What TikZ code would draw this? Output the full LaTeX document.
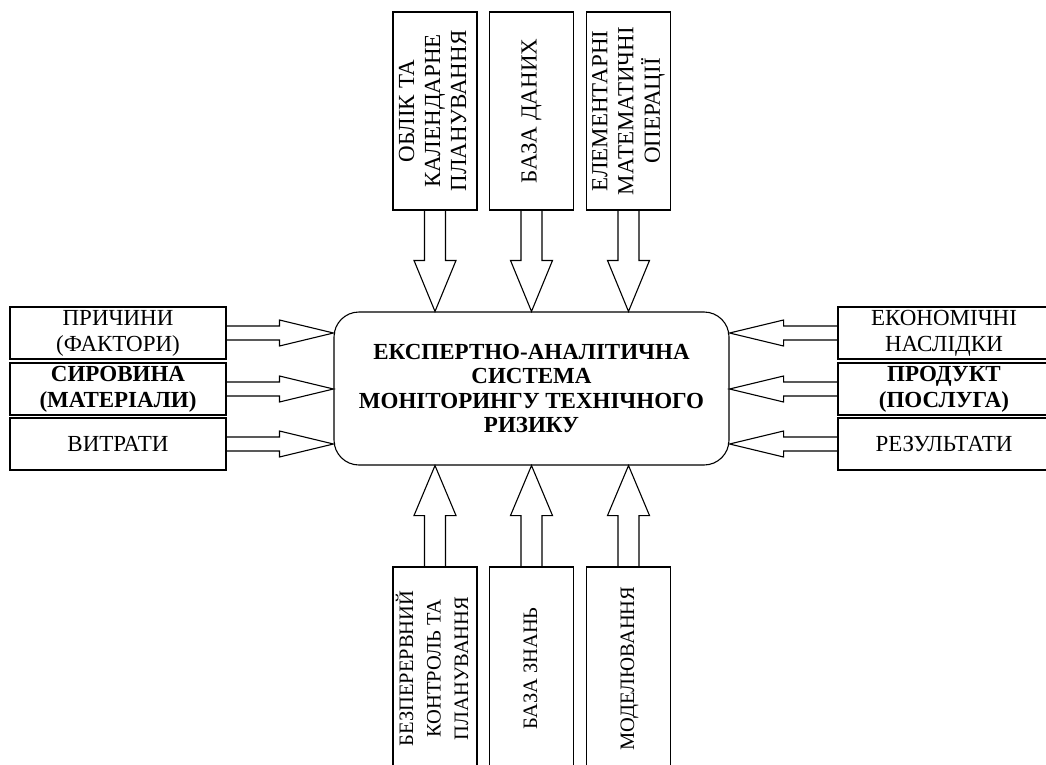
\documentclass[tikz,border=0pt]{standalone}
\usepackage{fontspec}
\setmainfont{Liberation Serif}
\usepackage{graphicx}
\usetikzlibrary{calc}

\tikzset{
  box/.style={draw,rectangle,line width=1.1pt,align=center,inner sep=0pt},
  sidebox/.style={box,minimum width=216pt,minimum height=52pt},
  colbox/.style={box,minimum width=84pt,minimum height=198pt},
  hollow/.style={line width=1.1pt,line join=miter}
}
\newcommand{\uptext}[1]{\rotatebox{90}{\begin{tabular}{@{}c@{}}#1\end{tabular}}}

\begin{document}
\begin{tikzpicture}[x=1pt,y=-1pt,font=\fontsize{23}{26}\selectfont]
  \useasboundingbox (0,0) rectangle (1046,765);
  % centre
  \node[draw,line width=1.1pt,rounded corners=25pt,minimum width=395pt,minimum height=153pt,align=center,
        font=\fontsize{23}{24.5}\selectfont\bfseries] (main) at (531.5,388.5)
     {ЕКСПЕРТНО-АНАЛІТИЧНА\\СИСТЕМА\\МОНІТОРИНГУ ТЕХНІЧНОГО\\РИЗИКУ};
  % inputs on the left
  \node[sidebox] (l1) at (118,333) {ПРИЧИНИ\\(ФАКТОРИ)};
  \node[sidebox,font=\fontsize{23}{26}\selectfont\bfseries] (l2) at (118,389) {СИРОВИНА\\(МАТЕРІАЛИ)};
  \node[sidebox] (l3) at (118,444) {ВИТРАТИ};
  % outputs on the right (run off the page)
  \node[sidebox,minimum width=212pt] (r1) at (944,333) {ЕКОНОМІЧНІ\\НАСЛІДКИ};
  \node[sidebox,minimum width=212pt,font=\fontsize{23}{26}\selectfont\bfseries] (r2) at (944,389) {ПРОДУКТ\\(ПОСЛУГА)};
  \node[sidebox,minimum width=212pt] (r3) at (944,444) {РЕЗУЛЬТАТИ};
  % top
  \node[colbox] (t1) at (435,111) {\uptext{ОБЛІК ТА\\КАЛЕНДАРНЕ\\ПЛАНУВАННЯ}};
  \node[colbox] (t2) at (531.5,111) {\uptext{БАЗА ДАНИХ}};
  \node[colbox] (t3) at (628.5,111) {\uptext{ЕЛЕМЕНТАРНІ\\МАТЕМАТИЧНІ\\ОПЕРАЦІЇ}};
  % bottom (run off the page)
  \begin{scope}[font=\fontsize{20.5}{27.5}\selectfont]
  \node[colbox,minimum height=203pt] (b1) at (435,668.5) {\uptext{БЕЗПЕРЕРВНИЙ\\КОНТРОЛЬ ТА\\ПЛАНУВАННЯ}};
  \node[colbox,minimum height=203pt] (b2) at (531.5,668.5) {\uptext{БАЗА ЗНАНЬ}};
  \node[colbox,minimum height=203pt] (b3) at (628.5,668.5) {\uptext{МОДЕЛЮВАННЯ}};
  \end{scope}
  % block arrows
  \foreach \n in {t1,t2,t3}
    \draw[hollow] ($(\n.south)+(-10.5,0)$) |- ($(\n.south |- main.north)+(-21,-51)$) -- (\n.south |- main.north)
      -- ($(\n.south |- main.north)+(21,-51)$) -| ($(\n.south)+(10.5,0)$);
  \foreach \n in {b1,b2,b3}
    \draw[hollow] ($(\n.north)+(-10.5,0)$) |- ($(\n.north |- main.south)+(-21,50)$) -- (\n.north |- main.south)
      -- ($(\n.north |- main.south)+(21,50)$) -| ($(\n.north)+(10.5,0)$);
  \foreach \n in {l1,l2,l3}
    \draw[hollow] ($(\n.east)+(0,-7)$) -| ($(\n.east -| main.west)+(-54,-13)$) -- (\n.east -| main.west)
      -- ($(\n.east -| main.west)+(-54,13)$) |- ($(\n.east)+(0,7)$);
  \foreach \n in {r1,r2,r3}
    \draw[hollow] ($(\n.west)+(0,-7)$) -| ($(\n.west -| main.east)+(54,-13)$) -- (\n.west -| main.east)
      -- ($(\n.west -| main.east)+(54,13)$) |- ($(\n.west)+(0,7)$);
\end{tikzpicture}
\end{document}
